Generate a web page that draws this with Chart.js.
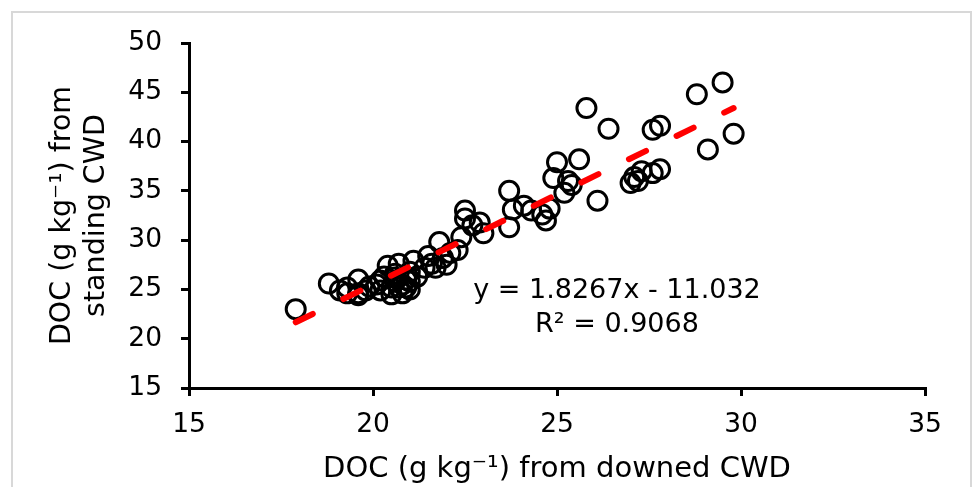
<!DOCTYPE html>
<html>
<head>
<meta charset="utf-8">
<title>DOC standing vs downed CWD</title>
<script src="https://cdn.jsdelivr.net/npm/chart.js@4.4.1/dist/chart.umd.min.js"></script>
<style>
    html, body { margin: 0; padding: 0; background: #fff; }
    #wrap { position: relative; width: 974px; height: 487px; overflow: hidden; }
    #frame { position: absolute; left: 11px; top: 11px; width: 961px; height: 520px; border: 2px solid #d8d8d8; box-sizing: border-box; }
    #docChart { position: absolute; left: 0; top: 0; }
</style>
</head>
<body>
<div id="wrap">
    <div id="frame"></div>
    <canvas id="docChart" width="974" height="487"></canvas>
</div>
<script>
// DOC (g kg-1): x = downed CWD, y = standing CWD
const downedDOC = [
    17.9, 18.8, 19.1, 19.3, 19.6, 19.6, 19.8, 19.9, 20.1, 20.2,
    20.3, 20.4, 20.5, 20.6, 20.6, 20.7, 20.8, 20.9, 21.0, 21.0,
    21.1, 21.2, 21.5, 21.6, 21.7, 21.8, 21.9, 22.0, 22.1, 22.3,
    21.4, 20.7, 20.2, 20.5, 20.8, 21.0, 19.6, 19.3, 20.9, 20.6,
    22.5, 22.5, 22.7, 22.9, 23.0, 22.4, 23.7, 23.7, 23.8, 24.1,
    24.3, 24.6, 24.7, 24.8, 24.9, 25.0, 25.2, 25.4, 25.3, 25.6,
    26.1, 25.8, 26.4,
    27.0, 27.1, 27.2, 27.3, 27.6, 27.8, 27.6, 27.8, 28.8, 29.5,
    29.1, 29.8
];
const standingDOC = [
    23.0, 25.6, 24.9, 25.2, 26.0, 24.6, 24.9, 25.3, 25.5, 25.9,
    26.3, 27.4, 25.2, 25.8, 26.6, 27.6, 25.5, 26.0, 26.8, 25.8,
    27.9, 26.3, 28.4, 27.6, 27.2, 29.8, 28.2, 27.5, 28.7, 29.0,
    27.2, 25.2, 24.9, 24.5, 24.6, 25.0, 24.4, 24.6, 25.2, 26.2,
    33.0, 32.2, 31.5, 31.8, 30.7, 30.3, 35.0, 31.3, 33.1, 33.5,
    33.0, 32.6, 32.0, 33.2, 36.3, 37.9, 34.8, 35.6, 36.0, 38.2,
    34.0, 43.4, 41.3,
    35.8, 36.4, 36.0, 37.0, 41.2, 41.6, 36.8, 37.2, 44.8, 46.0,
    39.2, 40.8
];

// linear fit shown on the figure
const slope = 1.8267;
const intercept = -11.032;
const rSquared = 0.9068;

const xTickValues = [15, 20, 25, 30, 35];
const yTickValues = [15, 20, 25, 30, 35, 40, 45, 50];

const xTitle = "DOC (g kg\u207B\u00B9) from downed CWD";
const yTitle = ["DOC (g kg\u207B\u00B9) from", "standing CWD"];

const points = downedDOC.map((x, i) => ({ x: x, y: standingDOC[i] }));
const xMin = Math.min(...downedDOC);
const xMax = Math.max(...downedDOC);
const trendPoints = [xMin, xMax].map(x => ({ x: x, y: slope * x + intercept }));

const equationText = [
    "y = " + slope + "x - " + Math.abs(intercept),
    "R\u00B2 = " + rSquared
];

const fontFamily = '"DejaVu Sans", sans-serif';

// writes the trendline equation next to the line
const equationLabel = {
    id: "equationLabel",
    afterDatasetsDraw(chart) {
        const { ctx, scales } = chart;
        const cx = scales.x.getPixelForValue(26.63);
        ctx.save();
        ctx.font = "27px " + fontFamily;
        ctx.fillStyle = "#000";
        ctx.textAlign = "center";
        ctx.textBaseline = "alphabetic";
        ctx.fillText(equationText[0], cx, scales.y.getPixelForValue(24.1));
        ctx.fillText(equationText[1], cx, scales.y.getPixelForValue(20.65));
        ctx.restore();
    }
};

const axisStyle = (size) => ({
    border: { display: true, color: "#000", width: 3 },
    grid: { drawOnChartArea: false, drawTicks: true, tickLength: 8, color: "#000", lineWidth: 3 },
    ticks: { color: "#000", font: { family: fontFamily, size: size } }
});

const xAxis = axisStyle(26.5);
xAxis.type = "linear";
xAxis.min = 15;
xAxis.max = 35;
xAxis.ticks.padding = 13;
xAxis.afterBuildTicks = (axis) => { axis.ticks = xTickValues.map(v => ({ value: v })); };
xAxis.afterFit = (axis) => { axis.height = 99; };
xAxis.title = {
    display: true, text: xTitle, color: "#000",
    font: { family: fontFamily, size: 29 },
    padding: { top: 0, bottom: 0 }
};

const yAxis = axisStyle(26.5);
yAxis.type = "linear";
yAxis.min = 15;
yAxis.max = 50;
yAxis.ticks.padding = 19;
yAxis.afterBuildTicks = (axis) => { axis.ticks = yTickValues.map(v => ({ value: v })); };
yAxis.afterFit = (axis) => { axis.width = 189; };
yAxis.title = {
    display: true, text: yTitle, color: "#000",
    font: { family: fontFamily, size: 28.5 },
    padding: { top: 45, bottom: 0 }
};

new Chart(document.getElementById("docChart"), {
    type: "scatter",
    data: {
        datasets: [
            {
                label: "Linear fit",
                data: trendPoints,
                type: "line",
                showLine: true,
                pointRadius: 0,
                borderColor: "#ff0000",
                borderWidth: 6,
                borderDash: [19, 34],
                borderCapStyle: "round",
                order: 0
            },
            {
                label: "DOC",
                data: points,
                pointStyle: "circle",
                pointRadius: 9.5,
                pointHoverRadius: 9.5,
                pointBorderWidth: 3,
                pointBorderColor: "#000",
                pointBackgroundColor: "rgba(0,0,0,0)",
                order: 1
            }
        ]
    },
    options: {
        responsive: false,
        animation: false,
        layout: { padding: { top: 43, right: 49, bottom: 0, left: 0 } },
        plugins: {
            legend: { display: false },
            tooltip: { enabled: false }
        },
        scales: { x: xAxis, y: yAxis }
    },
    plugins: [equationLabel]
});
</script>
</body>
</html>
